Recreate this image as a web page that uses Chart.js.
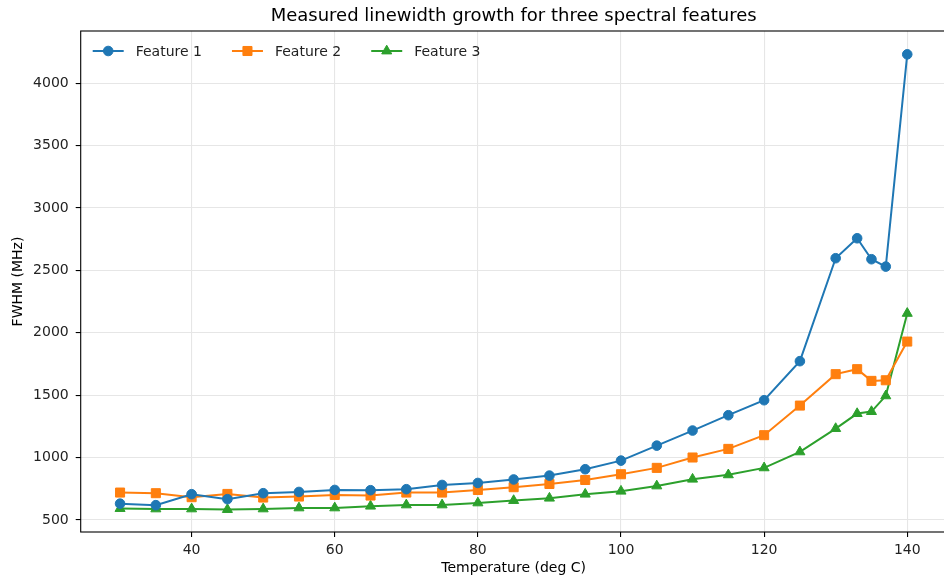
<!DOCTYPE html>
<html>
<head>
<meta charset="utf-8">
<script src="https://cdn.jsdelivr.net/npm/chart.js@4.4.1/dist/chart.umd.min.js"></script>
<style>
	html, body { margin: 0; padding: 0; background: #fff; overflow: hidden; }
	#wrap { width: 944px; height: 577px; overflow: hidden; }
	#linewidthChart { display: block; }
</style>
</head>
<body>
<div id="wrap"><canvas id="linewidthChart" width="948" height="577"></canvas></div>
<script>
"use strict"

// temperatures (deg C) and measured FWHM (MHz) per feature
const temperatures = [30, 35, 40, 45, 50, 55, 60, 65, 70, 75, 80, 85, 90, 95, 100, 105, 110, 115, 120, 125, 130, 133, 135, 137, 140]
const feature1 = [630, 618, 706, 666, 714, 724, 740, 738, 746, 780, 796, 824, 855, 906, 975, 1095, 1216, 1339, 1459, 1772, 2597, 2757, 2589, 2530, 4231]
const feature2 = [719, 714, 682, 708, 679, 687, 700, 695, 719, 719, 740, 762, 788, 820, 866, 917, 1000, 1069, 1179, 1416, 1668, 1708, 1614, 1619, 1929]
const feature3 = [591, 588, 588, 583, 588, 596, 596, 610, 620, 620, 636, 655, 674, 706, 730, 772, 826, 861, 917, 1045, 1232, 1352, 1368, 1494, 2155]

const xTicks = [40, 60, 80, 100, 120, 140]
const yTicks = [500, 1000, 1500, 2000, 2500, 3000, 3500, 4000]

const FONT = "'DejaVu Sans', sans-serif"
const GRID = "#e6e6e6"

const toPoints = (ys) => ys.map((y, i) => ({ x: temperatures[i], y: y }))

function series(label, values, color, style, radius) {
	return {
		label: label,
		data: toPoints(values),
		borderColor: color,
		backgroundColor: color,
		borderWidth: 2,
		pointStyle: style,
		pointRadius: radius,
		pointBorderWidth: 1,
		pointBorderColor: color,
		pointBackgroundColor: color,
		pointHoverRadius: radius,
		tension: 0,
	}
}

// black box around the plot area (right side sits past the visible edge)
const frame = {
	id: "frame",
	afterDatasetsDraw(chart) {
		const { ctx, chartArea: a } = chart
		ctx.save()
		ctx.strokeStyle = "#000"
		ctx.lineWidth = 1.1
		ctx.strokeRect(a.left, a.top, a.right - a.left, a.bottom - a.top)
		ctx.restore()
	},
}

// line + marker legend in the upper left of the plot
const insideLegend = {
	id: "insideLegend",
	afterDraw(chart) {
		const { ctx, chartArea: a } = chart
		let x = a.left + 12
		const y = a.top + 20
		ctx.save()
		ctx.font = "14px " + FONT
		ctx.textBaseline = "middle"
		chart.data.datasets.forEach((ds) => {
			ctx.strokeStyle = ds.borderColor
			ctx.lineWidth = 2
			ctx.beginPath()
			ctx.moveTo(x, y)
			ctx.lineTo(x + 31, y)
			ctx.stroke()
			ctx.fillStyle = ds.borderColor
			ctx.lineWidth = 1
			Chart.helpers.drawPoint(ctx, { pointStyle: ds.pointStyle, radius: ds.pointRadius, rotation: 0, borderWidth: 1 }, x + 15.5, y)
			ctx.fillStyle = "#222"
			ctx.fillText(ds.label, x + 43, y + 1)
			x += 43 + ctx.measureText(ds.label).width + 30
		})
		ctx.restore()
	},
}

let chart = new Chart(document.getElementById("linewidthChart").getContext("2d"), {
	type: "line",
	data: {
		datasets: [
			series("Feature 1", feature1, "#1f77b4", "circle", 4.8),
			series("Feature 2", feature2, "#ff7f0e", "rect", 6.4),
			series("Feature 3", feature3, "#2ca02c", "triangle", 5.8),
		],
	},
	options: {
		responsive: false,
		animation: false,
		devicePixelRatio: 1,
		layout: { autoPadding: false, padding: { left: 0, right: 1.4, top: 0, bottom: 0 } },
		plugins: {
			legend: { display: false },
			tooltip: { enabled: false },
			title: {
				display: true,
				fullSize: false,
				text: "Measured linewidth growth for three spectral features",
				color: "#000",
				font: { family: FONT, size: 18, weight: "normal" },
				padding: { top: 6, bottom: 3.4 },
			},
		},
		scales: {
			x: {
				type: "linear",
				min: 24.5,
				max: 145.5,
				afterBuildTicks: (scale) => { scale.ticks = xTicks.map((v) => ({ value: v })) },
				afterFit: (scale) => {
					scale.height = 45
					scale.paddingLeft = 0
					scale.paddingRight = 0
				},
				grid: { color: GRID, lineWidth: 1.1, tickColor: "#000", tickLength: 5, drawOnChartArea: true },
				border: { display: false },
				ticks: { color: "#222", font: { family: FONT, size: 14 }, padding: 5, maxRotation: 0, callback: (v) => String(v) },
				title: {
					display: true,
					text: "Temperature (deg C)",
					color: "#000",
					font: { family: FONT, size: 14 },
					padding: { top: 0, bottom: 0 },
				},
			},
			y: {
				type: "linear",
				min: 403,
				max: 4418,
				afterBuildTicks: (scale) => { scale.ticks = yTicks.map((v) => ({ value: v })) },
				afterFit: (scale) => { scale.width = 80.7 },
				grid: { color: GRID, lineWidth: 1.1, tickColor: "#000", tickLength: 5 },
				border: { display: false },
				ticks: { color: "#222", font: { family: FONT, size: 14 }, padding: 7, callback: (v) => String(v) },
				title: {
					display: true,
					text: "FWHM (MHz)",
					color: "#000",
					font: { family: FONT, size: 14 },
					padding: { top: 10, bottom: 0 },
				},
			},
		},
	},
	plugins: [frame, insideLegend],
})
</script>
</body>
</html>
